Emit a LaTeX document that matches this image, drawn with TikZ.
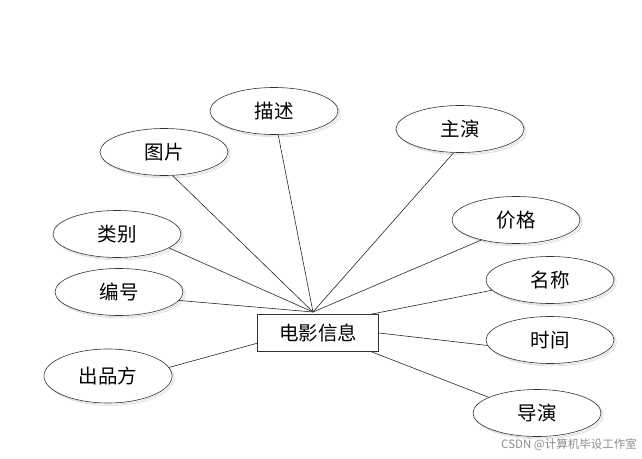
\documentclass[tikz,border=0pt]{standalone}
\usepackage{fontspec}
\newfontfamily\cjk{Noto Sans CJK SC}[Scale=1]
\usetikzlibrary{shapes.geometric,shadows}
\begin{document}
\begin{tikzpicture}[x=1pt,y=-1pt,
  attr/.style={ellipse,draw=black!80,line width=0.6pt,fill=white,minimum width=128pt,minimum height=47pt,inner sep=0pt,
    font=\cjk\fontsize{19.5}{19.5}\selectfont,
    double copy shadow={shadow xshift=1.2pt,shadow yshift=-1.2pt,draw=black!15,fill=white,opacity=1}},
  ent/.style={rectangle,draw=black!80,line width=0.6pt,fill=white,minimum width=121pt,minimum height=37pt,inner sep=0pt,
    font=\cjk\fontsize{19.5}{19.5}\selectfont},
  link/.style={draw=black!85,line width=0.6pt}]
\useasboundingbox (0,0) rectangle (642,458);
\coordinate (hub) at (313,312);
\coordinate (mc) at (362,316);
\coordinate (sj) at (379,333);
\coordinate (dy) at (372,352);
\coordinate (cp) at (258,343);
\node[attr] (ms) at (274,111) {描述};
\node[attr] (tp) at (164,152) {图片};
\node[attr] (zy) at (460,129) {主演};
\node[attr] (jg) at (516,220) {价格};
\node[attr] (mcn) at (550,280) {名称};
\node[attr] (sjn) at (550,340) {时间};
\node[attr] (dyn) at (537,413) {导演};
\node[attr] (lb) at (117,234) {类别};
\node[attr] (bh) at (119,292) {编号};
\node[attr,minimum height=54pt] (cpf) at (108,376) {出品方};
\draw[link] (tp.-70) -- (hub);
\draw[link] (ms.-80) -- (hub);
\draw[link] (zy.-105) -- (hub);
\draw[link] (jg.-150) -- (hub);
\draw[link] (lb.-15) -- (hub);
\draw[link] (bh.-8) -- (hub);
\draw[link] (cpf.8) -- (cp);
\draw[link] (mcn.-170) -- (mc);
\draw[link] (sjn.-175) -- (sj);
\draw[link] (dyn.162) -- (dy);
\node[ent] (film) at (318,333) {电影信息};
\node[anchor=east,text=black!45,font=\cjk\fontsize{11.5}{11.5}\selectfont,inner sep=0pt] (wm) at (637,445) {CSDN @计算机毕设工作室};
\end{tikzpicture}
\end{document}
